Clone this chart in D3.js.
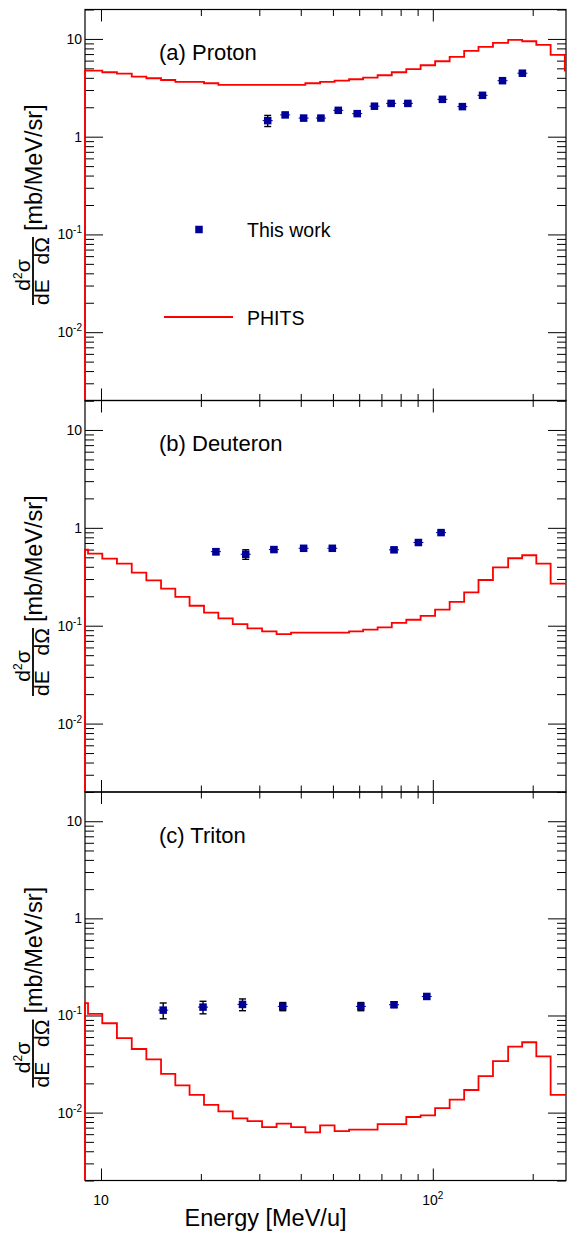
<!DOCTYPE html>
<html>
<head>
<meta charset="utf-8">
<script src="https://cdn.jsdelivr.net/npm/d3@7"></script>
<style>
  body { margin: 0; background: #fff; }
  svg { display: block; font-family: "Liberation Sans", Arial, sans-serif; }
</style>
</head>
<body>
<svg id="chart"></svg>
<script>
// PHITS histogram bin edges [MeV/u] (shared by all three panels)
const binEdges = [8.25, 9.14, 10.09, 11.17, 12.38, 13.7, 15.17, 16.75, 18.49, 20.44, 22.58, 24.95,
  27.63, 30.58, 33.82, 37.39, 41.29, 45.74, 50.58, 55.93, 61.65, 68.18, 75.22, 83.19, 91.88,
  101.6, 112.4, 124.3, 137.3, 151.8, 168.7, 185.9, 205.1, 226.5, 250.0, 276.1];

// PHITS values per bin [mb/MeV/sr]
const phitsProton = [4.74, 4.74, 4.56, 4.41, 4.11, 3.96, 3.80, 3.63, 3.63, 3.52, 3.38, 3.38, 3.38,
  3.38, 3.38, 3.38, 3.52, 3.63, 3.74, 3.87, 4.02, 4.25, 4.56, 4.90, 5.38, 5.91, 6.54, 7.54, 8.28,
  9.10, 9.77, 9.47, 8.68, 6.86, 4.74];
const phitsDeuteron = [0.60, 0.546, 0.485, 0.431, 0.349, 0.291, 0.239, 0.197, 0.160, 0.136, 0.119,
  0.104, 0.094, 0.0875, 0.082, 0.0848, 0.0848, 0.0848, 0.0848, 0.0875, 0.091, 0.096, 0.107, 0.115,
  0.126, 0.146, 0.175, 0.219, 0.293, 0.394, 0.489, 0.525, 0.431, 0.269, 0.269];
const phitsTriton = [0.134, 0.104, 0.0832, 0.0586, 0.0452, 0.0353, 0.0251, 0.0191, 0.0152, 0.0120,
  0.0103, 0.00873, 0.00818, 0.00709, 0.00769, 0.00709, 0.00625, 0.00740, 0.00645, 0.00667, 0.00667,
  0.00762, 0.00762, 0.00901, 0.00938, 0.0111, 0.0136, 0.0171, 0.0237, 0.0339, 0.0477, 0.0530,
  0.0380, 0.0152, 0.0152];

// measured points ("This work")
const protonE = [31.8, 35.9, 40.8, 46.0, 51.9, 59.2, 66.7, 74.9, 84.1, 106.9, 122.8, 141.2, 162.2, 186.2];
const protonV = [1.46, 1.67, 1.55, 1.55, 1.86, 1.72, 2.05, 2.19, 2.19, 2.41, 2.03, 2.65, 3.74, 4.46];
const protonErr = [0.19, 0.08, 0.09, 0.06, 0.07, 0.07, 0.08, 0.08, 0.08, 0.09, 0.08, 0.1, 0.12, 0.14];

const deuteronE = [22.2, 27.3, 33.2, 40.8, 49.8, 76.4, 90.5, 105.9];
const deuteronV = [0.571, 0.537, 0.600, 0.618, 0.618, 0.596, 0.708, 0.894];
const deuteronErr = [0.04, 0.06, 0.03, 0.03, 0.03, 0.03, 0.03, 0.04];

const tritonE = [15.4, 20.3, 26.7, 35.3, 60.7, 76.4, 95.9];
const tritonV = [0.1135, 0.122, 0.130, 0.124, 0.124, 0.129, 0.157];
const tritonErr = [0.021, 0.018, 0.018, 0.012, 0.012, 0.008, 0.008];

const panelLabels = ["(a) Proton", "(b) Deuteron", "(c) Triton"];
const xDomain = [8.95, 252];
const yDomain = [0.002, 20];
const yTickValues = [0.01, 0.1, 1, 10];
const yTickText = ["10^-2", "10^-1", "1", "10"];
const xTickValues = [10, 100];
const xTickText = ["10", "10^2"];
const legendText = ["This work", "PHITS"];

const panels = [
  { label: panelLabels[0], phits: phitsProton, E: protonE, V: protonV, err: protonErr },
  { label: panelLabels[1], phits: phitsDeuteron, E: deuteronE, V: deuteronV, err: deuteronErr },
  { label: panelLabels[2], phits: phitsTriton, E: tritonE, V: tritonV, err: tritonErr }
];

// layout
const Width = 569, Height = 1234;
const plotLeft = 85, plotRight = 566;
const panelTops = [9.5, 400.5, 792];
const panelBottoms = [400.5, 792, 1180.5];
const markerColor = '#000099';
const lineColor = '#ff0000';

const svg = d3.select('#chart').attr('width', Width).attr('height', Height);

const xScale = d3.scaleLog().domain(xDomain).range([plotLeft, plotRight]);

const isDecade = v => Math.abs(Math.log10(v) - Math.round(Math.log10(v))) < 1e-6;

// text with "^" superscript
function addLabel(sel, str, supSize, supDy) {
  const parts = str.split('^');
  sel.append('tspan').text(parts[0]);
  if (parts.length > 1) {
    sel.append('tspan').attr('dy', supDy).attr('font-size', supSize).text(parts[1]);
  }
}

panels.forEach((p, i) => {
  const top = panelTops[i], bottom = panelBottoms[i];
  const yScale = d3.scaleLog().domain(yDomain).range([bottom, top]);
  const g = svg.append('g');

  // clip
  const clipId = 'clip' + i;
  svg.append('clipPath').attr('id', clipId)
    .append('rect')
    .attr('x', plotLeft - 1.5).attr('y', top)
    .attr('width', plotRight - plotLeft + 1.5).attr('height', bottom - top);

  // ticks y
  const yAll = yScale.ticks();
  const yMajor = yAll.filter(isDecade);
  const yMinor = yAll.filter(v => !isDecade(v));
  const tickAxes = [
    [d3.axisLeft(yScale).tickValues(yMajor).tickSize(-18), plotLeft],
    [d3.axisLeft(yScale).tickValues(yMinor).tickSize(-9), plotLeft],
    [d3.axisRight(yScale).tickValues(yMajor).tickSize(-18), plotRight],
    [d3.axisRight(yScale).tickValues(yMinor).tickSize(-9), plotRight]
  ];
  // ticks x
  const xAll = xScale.ticks().filter(v => xScale(v) - plotLeft > 2);
  const xMajor = xAll.filter(isDecade);
  const xMinor = xAll.filter(v => !isDecade(v));
  tickAxes.push(
    [d3.axisBottom(xScale).tickValues(xMajor).tickSize(-12), bottom, true],
    [d3.axisBottom(xScale).tickValues(xMinor).tickSize(-6.5), bottom, true],
    [d3.axisTop(xScale).tickValues(xMajor).tickSize(-12), top, true],
    [d3.axisTop(xScale).tickValues(xMinor).tickSize(-6.5), top, true]
  );
  tickAxes.forEach(([axis, pos, horiz]) => {
    const a = g.append('g')
      .attr('transform', horiz ? `translate(0,${pos})` : `translate(${pos},0)`)
      .call(axis.tickFormat(''));
    a.select('.domain').remove();
    a.selectAll('line').attr('stroke', '#000').attr('stroke-width', 1);
  });

  // frame
  g.append('rect')
    .attr('x', plotLeft).attr('y', top)
    .attr('width', plotRight - plotLeft).attr('height', bottom - top)
    .attr('fill', 'none').attr('stroke', '#000').attr('stroke-width', 1.2);

  // y tick labels
  yTickValues.forEach((v, k) => {
    const t = g.append('text')
      .attr('x', 82).attr('y', yScale(v) + 5)
      .attr('text-anchor', 'end')
      .attr('font-size', 14);
    addLabel(t, yTickText[k], 10, -6);
  });

  // PHITS histogram
  const pts = [[xDomain[0], yDomain[0]]];
  p.phits.forEach((v, k) => pts.push([Math.max(binEdges[k], xDomain[0]), v]));
  pts.push([binEdges[binEdges.length - 1], p.phits[p.phits.length - 1]]);
  const line = d3.line()
    .x(d => xScale(d[0]))
    .y(d => yScale(d[1]))
    .curve(d3.curveStepAfter);
  g.append('path')
    .datum(pts)
    .attr('clip-path', `url(#${clipId})`)
    .attr('d', line)
    .attr('fill', 'none')
    .attr('stroke', lineColor)
    .attr('stroke-width', 1.8);

  // data points
  const data = p.E.map((e, k) => ({ e: e, v: p.V[k], err: p.err[k] }));
  const pt = g.selectAll('.pt' + i).data(data).enter().append('g');
  pt.append('line')
    .attr('x1', d => xScale(d.e)).attr('x2', d => xScale(d.e))
    .attr('y1', d => yScale(d.v + d.err)).attr('y2', d => yScale(d.v - d.err))
    .attr('stroke', '#000').attr('stroke-width', 1.4);
  ['+', '-'].forEach(s => {
    pt.append('line')
      .attr('x1', d => xScale(d.e) - 3.5).attr('x2', d => xScale(d.e) + 3.5)
      .attr('y1', d => yScale(s === '+' ? d.v + d.err : d.v - d.err))
      .attr('y2', d => yScale(s === '+' ? d.v + d.err : d.v - d.err))
      .attr('stroke', '#000').attr('stroke-width', 1.4);
  });
  pt.append('line')
    .attr('x1', d => xScale(d.e) - 5).attr('x2', d => xScale(d.e) + 5)
    .attr('y1', d => yScale(d.v)).attr('y2', d => yScale(d.v))
    .attr('stroke', markerColor).attr('stroke-width', 1);
  pt.append('rect')
    .attr('x', d => xScale(d.e) - 3.75).attr('y', d => yScale(d.v) - 3.75)
    .attr('width', 7.5).attr('height', 7.5)
    .attr('fill', markerColor);

  // panel label
  g.append('text')
    .attr('x', 159).attr('y', top + 50.5)
    .attr('font-size', 22)
    .text(p.label);

  // y axis title
  const yt = g.append('g')
    .attr('transform', `translate(33,${top + 261.5}) rotate(-90)`);
  yt.append('line')
    .attr('x1', -34).attr('x2', 34).attr('y1', 0).attr('y2', 0)
    .attr('stroke', '#000').attr('stroke-width', 1.8);
  const num = yt.append('text').attr('x', -4).attr('y', -3)
    .attr('text-anchor', 'middle').attr('font-size', 21);
  num.append('tspan').text('d');
  num.append('tspan').attr('dy', -8).attr('font-size', 12).text('2');
  num.append('tspan').attr('dy', 8).text('σ');
  yt.append('text').attr('x', -34).attr('y', 16)
    .attr('font-size', 21).text('dE');
  yt.append('text').attr('x', 34).attr('y', 16)
    .attr('text-anchor', 'end').attr('font-size', 21).text('dΩ');
  yt.append('text').attr('x', 40).attr('y', 9)
    .attr('font-size', 23.5).text('[mb/MeV/sr]');
});

// legend (panel a)
const legTop = panelTops[0];
svg.append('rect')
  .attr('x', 199 - 3.75).attr('y', legTop + 220 - 3.75)
  .attr('width', 7.5).attr('height', 7.5).attr('fill', markerColor);
svg.append('text').attr('x', 247).attr('y', legTop + 227)
  .attr('font-size', 19.5).text(legendText[0]);
svg.append('line')
  .attr('x1', 164).attr('x2', 233)
  .attr('y1', legTop + 307.5).attr('y2', legTop + 307.5)
  .attr('stroke', lineColor).attr('stroke-width', 1.8);
svg.append('text').attr('x', 247).attr('y', legTop + 315)
  .attr('font-size', 19.5).text(legendText[1]);

// x tick labels and title (bottom panel)
const lastBottom = panelBottoms[panelBottoms.length - 1];
xTickValues.forEach((v, k) => {
  const t = svg.append('text')
    .attr('x', xScale(v)).attr('y', lastBottom + 24)
    .attr('text-anchor', 'middle')
    .attr('font-size', 14);
  addLabel(t, xTickText[k], 10, -6);
});
svg.append('text')
  .attr('x', 265.5).attr('y', lastBottom + 45.5)
  .attr('text-anchor', 'middle')
  .attr('font-size', 23.5)
  .text('Energy [MeV/u]');
</script>
</body>
</html>
